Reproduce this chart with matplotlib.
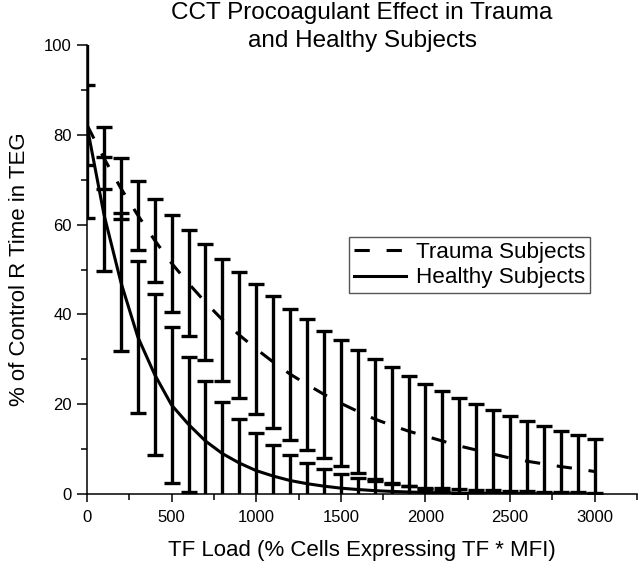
import numpy as np
import matplotlib.pyplot as plt
from matplotlib.ticker import MultipleLocator

plt.rcParams['font.family'] = ['Liberation Sans', 'DejaVu Sans']

# TF load (x) and % of control R time
tf_load = np.arange(0, 3001, 100)

trauma_mean = [82.2, 74.8, 68.1, 62.1, 56.5, 51.4, 46.9, 42.7, 38.8, 35.4, 32.3,
               29.4, 26.7, 24.4, 22.2, 20.2, 18.4, 16.7, 15.3, 14.0, 12.9,
               11.8, 10.7, 9.8, 8.9, 8.0, 7.3, 6.7, 6.1, 5.6, 5.0]
trauma_err = [8.9, 6.9, 6.8, 7.7, 9.3, 10.8, 11.8, 12.9, 13.6, 14.0, 14.4,
              14.6, 14.6, 14.5, 14.2, 14.0, 13.7, 13.3, 12.9, 12.3, 11.7,
              11.2, 10.7, 10.2, 9.8, 9.4, 9.0, 8.5, 8.0, 7.6, 7.2]

healthy_mean = [82.0, 62.3, 47.2, 35.0, 26.6, 19.8, 15.5, 11.8, 9.0, 6.9, 5.2,
                4.0, 3.0, 2.3, 1.75, 1.3, 1.0, 0.75, 0.58, 0.44, 0.34,
                0.26, 0.2, 0.15, 0.11, 0.09, 0.07, 0.05, 0.04, 0.03, 0.02]
healthy_err = [20.5, 12.7, 15.4, 17.0, 17.9, 17.4, 15.1, 13.4, 11.5, 9.8, 8.4,
               6.9, 5.7, 4.6, 3.85, 3.1, 2.6, 2.2, 1.7, 1.4, 1.1,
               1.0, 0.9, 0.8, 0.7, 0.6, 0.5, 0.5, 0.4, 0.4, 0.3]

fig = plt.figure(figsize=(6.38, 5.65), dpi=100)
ax = fig.add_axes([87/638, 1 - 494/565, 550/638, 449/565])

eb = dict(fmt='none', ecolor='black', elinewidth=2.4, capsize=5.5, capthick=2.4)
ax.errorbar(tf_load, trauma_mean, yerr=trauma_err, **eb)
ax.errorbar(tf_load, healthy_mean, yerr=healthy_err, **eb)

l1, = ax.plot(tf_load, trauma_mean, color='black', lw=2.2, linestyle=(0, (5, 5.5)),
              label='Trauma Subjects')
l2, = ax.plot(tf_load, healthy_mean, color='black', lw=2.2, label='Healthy Subjects')

ax.set_xlim(0, 3250)
ax.set_ylim(0, 100)
ax.xaxis.set_major_locator(MultipleLocator(500))
ax.xaxis.set_minor_locator(MultipleLocator(250))
ax.yaxis.set_major_locator(MultipleLocator(20))
ax.yaxis.set_minor_locator(MultipleLocator(10))
ax.tick_params(which='both', direction='out', width=1.1, labelsize=12)
ax.tick_params(axis='x', which='major', length=5.5, pad=6)
ax.tick_params(axis='x', which='minor', length=4)
ax.tick_params(axis='y', which='major', length=7.5, pad=3.5)
ax.tick_params(axis='y', which='minor', length=4)

for s in ['top', 'right']:
    ax.spines[s].set_visible(False)
for s in ['left', 'bottom']:
    ax.spines[s].set_linewidth(1.1)

ax.set_xlabel('TF Load (% Cells Expressing TF * MFI)', fontsize=16, labelpad=11)
ax.set_ylabel('% of Control R Time in TEG', fontsize=16, labelpad=10)

fig.text(362/638, 0.997, 'CCT Procoagulant Effect in Trauma\nand Healthy Subjects',
         ha='center', va='top', fontsize=17.5, linespacing=1.4)

leg = ax.legend(handles=[l1, l2], loc='upper left',
                bbox_to_anchor=((349 - 87) / 550, (494 - 237) / 449),
                borderaxespad=0, fontsize=16.2, handlelength=2.3, handletextpad=0.45,
                borderpad=0.22, labelspacing=0.2, fancybox=False, framealpha=1)
leg.get_frame().set_edgecolor('#555555')
leg.get_frame().set_linewidth(1)

fig.savefig('out.png', dpi=100)
